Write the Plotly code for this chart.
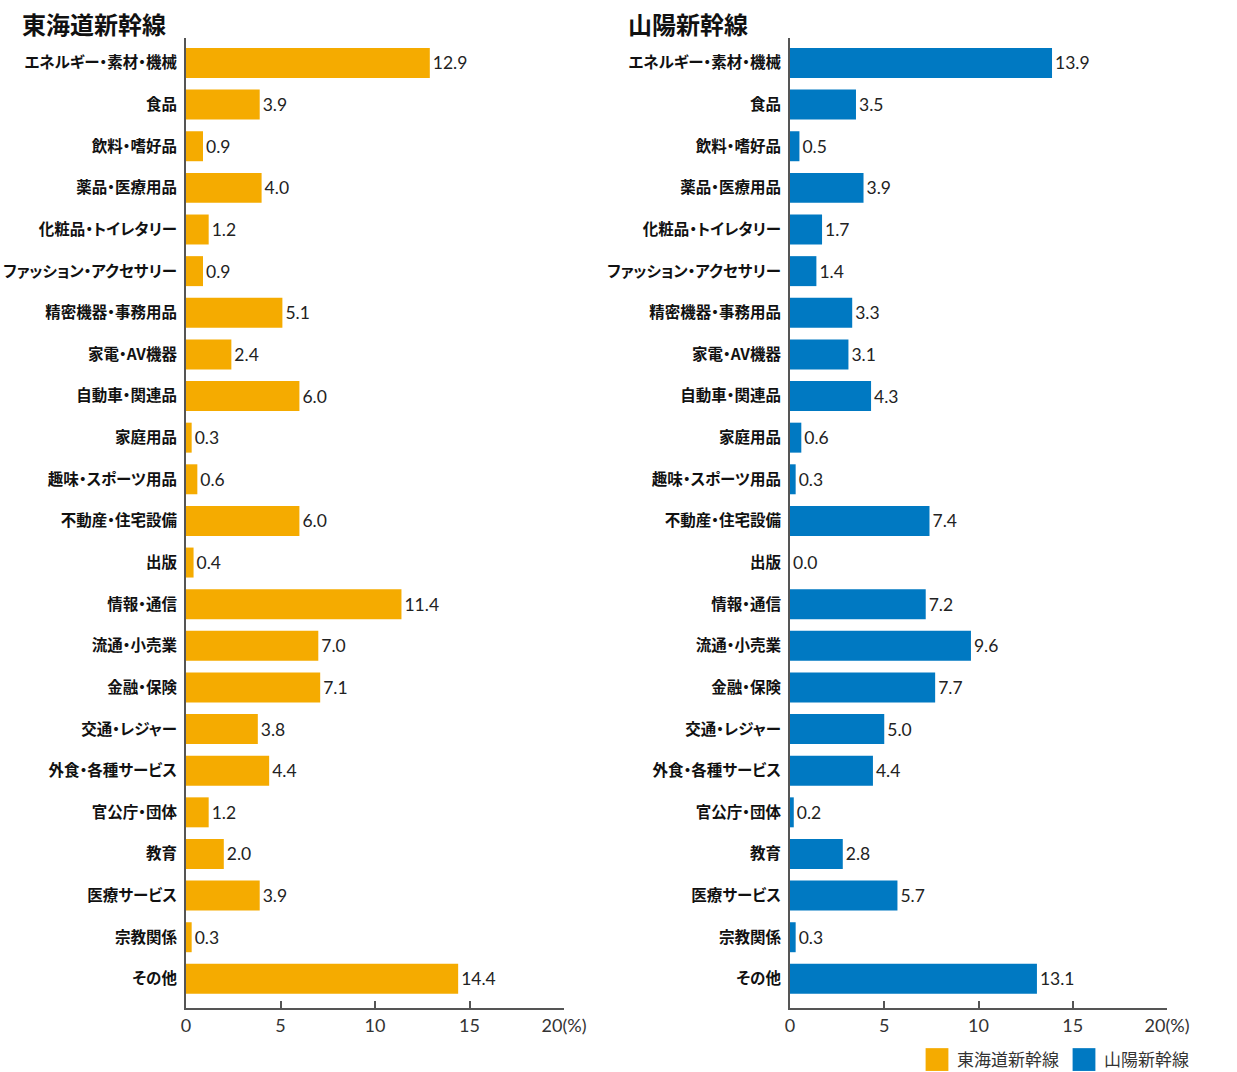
import plotly.graph_objects as go

categories = ["エネルギー・素材・機械", "食品", "飲料・嗜好品", "薬品・医療用品", "化粧品・トイレタリー",
              "ファッション・アクセサリー", "精密機器・事務用品", "家電・AV機器", "自動車・関連品", "家庭用品",
              "趣味・スポーツ用品", "不動産・住宅設備", "出版", "情報・通信", "流通・小売業", "金融・保険",
              "交通・レジャー", "外食・各種サービス", "官公庁・団体", "教育", "医療サービス", "宗教関係", "その他"]
tokaido = [12.9, 3.9, 0.9, 4.0, 1.2, 0.9, 5.1, 2.4, 6.0, 0.3, 0.6, 6.0, 0.4, 11.4, 7.0, 7.1, 3.8, 4.4, 1.2, 2.0, 3.9, 0.3, 14.4]
sanyo = [13.9, 3.5, 0.5, 3.9, 1.7, 1.4, 3.3, 3.1, 4.3, 0.6, 0.3, 7.4, 0.0, 7.2, 9.6, 7.7, 5.0, 4.4, 0.2, 2.8, 5.7, 0.3, 13.1]
series_names = ["東海道新幹線", "山陽新幹線"]
tick_vals = [0, 5, 10, 15, 20]
tick_text = ["0", "5", "10", "15", "20(%)"]

W, H = 1237, 1072
ORANGE = "#F5AB00"
BLUE = "#0079C2"
FONT = "Noto Sans CJK JP"
NUMFONT = "Lato"
AXIS = "#555555"

fig = go.Figure()
for vals, name, color, xa, ya in [(tokaido, series_names[0], ORANGE, "x", "y"),
                                  (sanyo, series_names[1], BLUE, "x2", "y2")]:
    fig.add_trace(go.Bar(
        x=vals, y=categories, orientation="h", name=name,
        marker=dict(color=color, line=dict(width=0)),
        width=0.72,
        text=[f"{v:.1f}" for v in vals], textposition="outside",
        textfont=dict(family=NUMFONT, size=17.5, color="#222222"),
        cliponaxis=False, xaxis=xa, yaxis=ya,
    ))

ydom = [1 - 1008 / H, 1 - 38 / H]
yrange = [len(categories) - 1 + 0.7, -0.6]

def xaxis(dom):
    return dict(domain=dom, range=[0, 20], tickvals=tick_vals, ticktext=tick_text,
                ticks="inside", ticklen=7, tickwidth=2, tickcolor=AXIS,
                showline=True, linecolor=AXIS, linewidth=2, showgrid=False, zeroline=False,
                tickfont=dict(family=NUMFONT, size=18, color="#333333"), fixedrange=True)

def yaxis(dom, anchor):
    return dict(domain=dom, range=yrange, type="category", anchor=anchor,
                showline=True, linecolor=AXIS, linewidth=2, showgrid=False, ticks="",
                ticklabelstandoff=4,
                tickfont=dict(family=FONT, size=15.5, color="#111111", weight="bold"))

fig.update_layout(
    width=W, height=H, margin=dict(l=0, r=0, t=0, b=0, autoexpand=False),
    paper_bgcolor="white", plot_bgcolor="white",
    xaxis=xaxis([186 / W, 564 / W]),
    xaxis2=xaxis([790 / W, 1167 / W]),
    yaxis=yaxis(ydom, "x"),
    yaxis2=yaxis(ydom, "x2"),
    showlegend=True,
    legend=dict(orientation="h", x=1194 / W, xanchor="right", y=1 - 1060 / H, yanchor="middle",
                font=dict(family=FONT, size=17, color="#333333"), traceorder="normal",
                itemwidth=30, bgcolor="rgba(0,0,0,0)"),
    annotations=[
        dict(text="<b>東海道新幹線</b>", x=20 / W, y=1 - 24 / H, xref="paper", yref="paper",
             xanchor="left", yanchor="middle", showarrow=False,
             font=dict(family=FONT, size=24, color="#111111")),
        dict(text="<b>山陽新幹線</b>", x=626 / W, y=1 - 24 / H, xref="paper", yref="paper",
             xanchor="left", yanchor="middle", showarrow=False,
             font=dict(family=FONT, size=24, color="#111111")),
    ],
)

post = """
document.body.style.margin = '0';
document.body.style.overflow = 'hidden';
var s = document.createElement('style');
s.textContent = '.yaxislayer-above text, .legendtext, .annotation-text { font-feature-settings: "palt" 1; }'
  + ' .legendpoints path { transform: translate(20px, 0px) scale(1.9); }';
document.head.appendChild(s);
"""
fig.write_html("out.html", post_script=post, config={"displayModeBar": False})
